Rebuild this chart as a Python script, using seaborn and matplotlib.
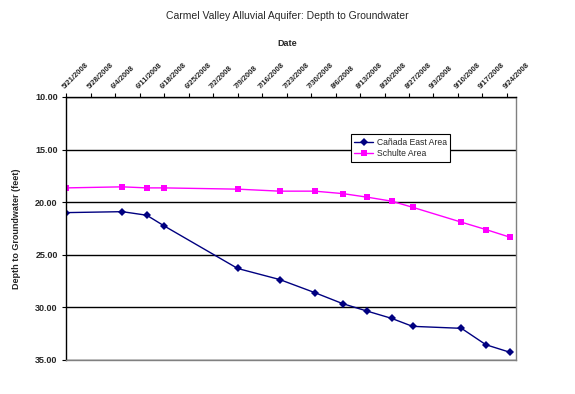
import pandas as pd
import matplotlib
matplotlib.use('Agg')
import matplotlib.pyplot as plt
import matplotlib.transforms as mtransforms
import seaborn as sns

# data
dates = ['2008-05-21', '2008-06-06', '2008-06-13', '2008-06-18', '2008-07-09',
         '2008-07-21', '2008-07-31', '2008-08-08', '2008-08-15', '2008-08-22',
         '2008-08-28', '2008-09-11', '2008-09-18', '2008-09-25']
canada_east = [20.99, 20.90, 21.24, 22.26, 26.30, 27.35, 28.59, 29.64, 30.35,
               31.04, 31.80, 31.99, 33.55, 34.28]
schulte = [18.64, 18.54, 18.64, 18.64, 18.76, 18.95, 18.95, 19.18, 19.52,
           19.90, 20.48, 21.90, 22.60, 23.34]
tick_dates = pd.date_range('2008-05-21', '2008-09-24', freq='7D')
y_ticks = [10, 15, 20, 25, 30, 35]

df = pd.DataFrame({'Date': pd.to_datetime(dates),
                   'Cañada East Area': canada_east,
                   'Schulte Area': schulte})

sns.set_style('white')
plt.rcParams['font.family'] = ['Liberation Sans', 'DejaVu Sans']

fig = plt.figure(figsize=(5.75, 3.94), dpi=100)
ax = fig.add_axes([66 / 575, 1 - 360 / 394, 450 / 575, 263 / 394])

sns.lineplot(data=df, x='Date', y='Cañada East Area', ax=ax, color='#000080',
             marker='D', markersize=3.8, markeredgewidth=0, linewidth=1,
             label='Cañada East Area')
sns.lineplot(data=df, x='Date', y='Schulte Area', ax=ax, color='#FF00FF',
             marker='s', markersize=5, markeredgewidth=0, linewidth=1,
             label='Schulte Area')

# axes limits / inverted depth axis
start = pd.Timestamp('2008-05-21')
ax.set_xlim(start - pd.Timedelta(days=0.1), start + pd.Timedelta(days=128.6))
ax.set_ylim(35, 10)
ax.set_yticks(y_ticks)
ax.set_yticklabels([f'{v:.2f}' for v in y_ticks], fontsize=6.5, fontweight='bold')
ax.yaxis.grid(True, color='black', linewidth=1)
ax.set_axisbelow(True)

# date axis on top
ax.xaxis.tick_top()
ax.set_xticks(tick_dates)
ax.set_xticklabels([f'{d.month}/{d.day}/{d.year}' for d in tick_dates],
                   rotation=45, ha='left', va='bottom', rotation_mode='anchor',
                   fontsize=5.5, fontweight='bold')
offset = mtransforms.ScaledTranslation(6 / 100, 4 / 100, fig.dpi_scale_trans)
for lbl in ax.get_xticklabels():
    lbl.set_transform(lbl.get_transform() + offset)
ax.tick_params(axis='x', top=True, bottom=False, direction='out', length=3,
               width=0.8, color='black', pad=2)
ax.tick_params(axis='y', left=True, direction='out', length=3, width=0.8,
               color='black', pad=3)

for side in ['left', 'top']:
    ax.spines[side].set_color('black')
    ax.spines[side].set_linewidth(1)
for side in ['right', 'bottom']:
    ax.spines[side].set_color('#808080')
    ax.spines[side].set_linewidth(1)

ax.set_xlabel('')
ax.set_ylabel('Depth to Groundwater (feet)', fontsize=6.5, fontweight='bold',
              labelpad=10)

fig.text(287 / 575, 1 - 16 / 394, 'Carmel Valley Alluvial Aquifer: Depth to Groundwater',
         ha='center', va='center', fontsize=7.5)
fig.text(287 / 575, 1 - 44 / 394, 'Date', ha='center', va='center', fontsize=6.5,
         fontweight='bold')

leg = ax.legend(loc='upper left', bbox_to_anchor=(0.633, 0.859), fontsize=6.2,
                frameon=True, fancybox=False, borderpad=0.4, handlelength=2.2,
                labelspacing=0.3, handletextpad=0.4, borderaxespad=0)
leg.get_frame().set_edgecolor('black')
leg.get_frame().set_linewidth(0.8)
leg.get_frame().set_alpha(1)

fig.savefig('out.png', dpi=100)
